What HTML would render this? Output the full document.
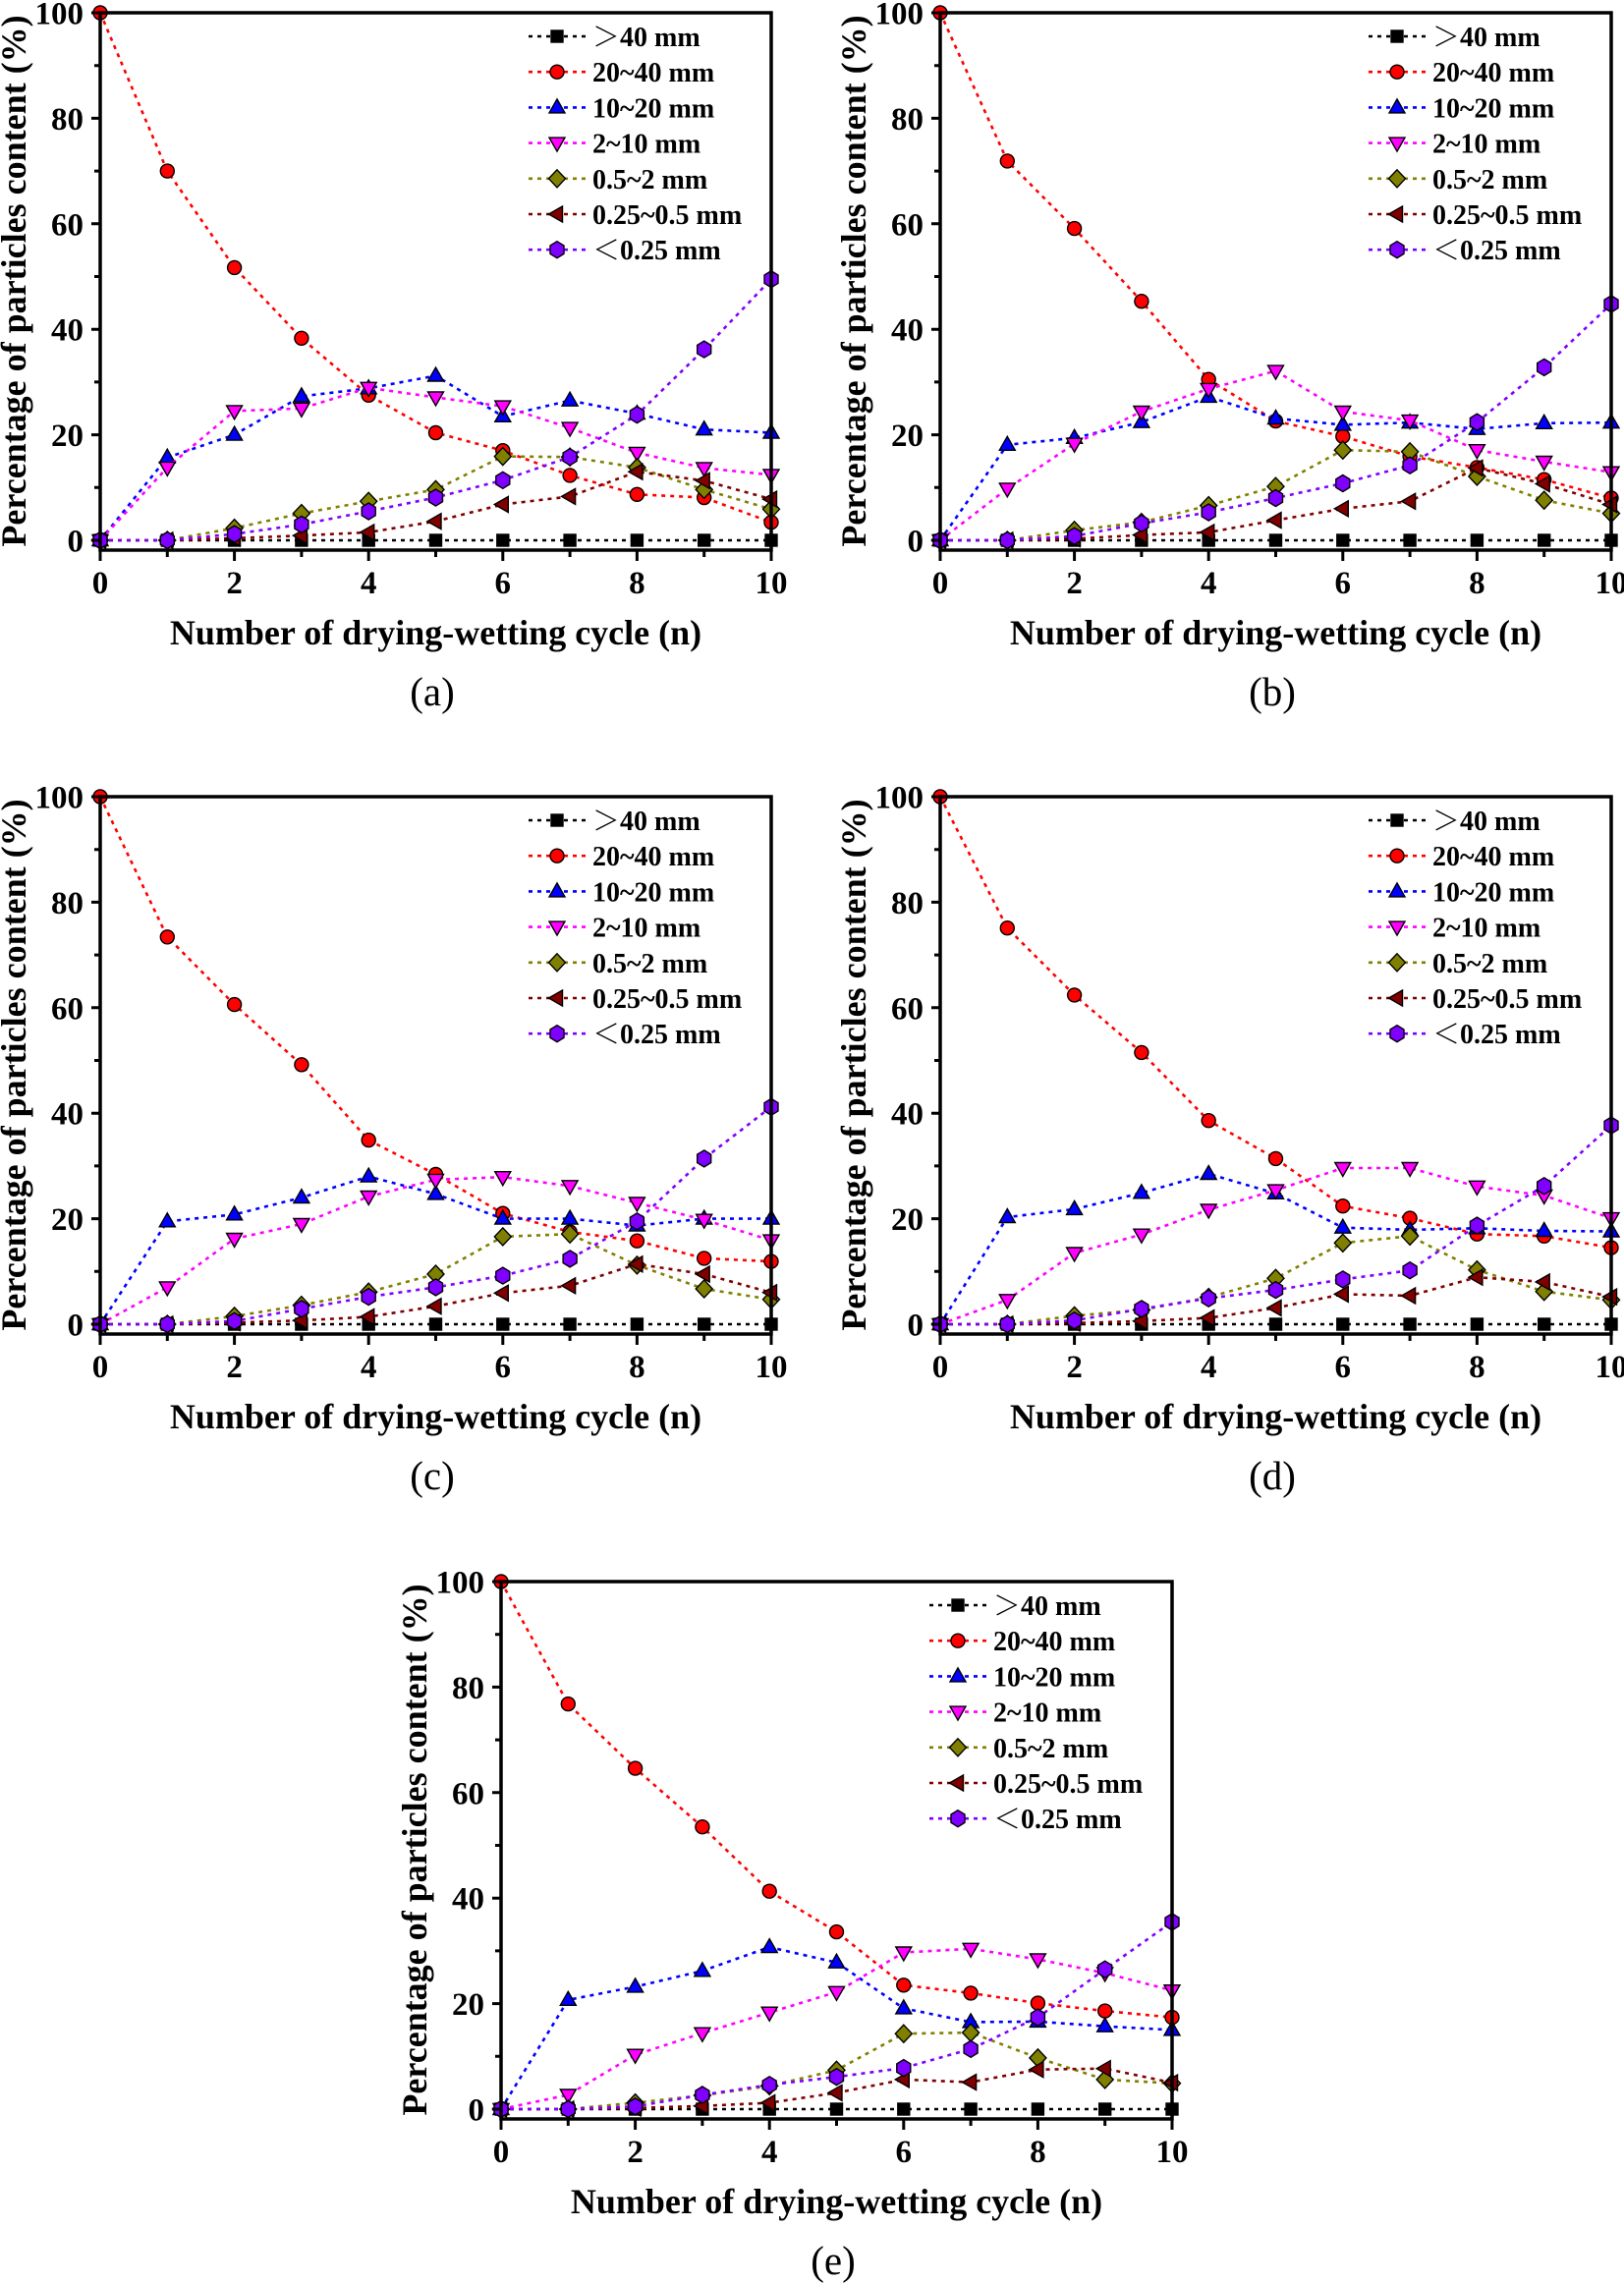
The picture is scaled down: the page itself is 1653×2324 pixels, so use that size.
<!DOCTYPE html>
<html>
<head>
<meta charset="utf-8">
<style>
html,body{margin:0;padding:0;background:#fff;}
svg{display:block;}
text{font-family:"Liberation Serif","Noto Serif CJK SC",serif;fill:#000;}
.tk{font-size:33px;font-weight:bold;}
.ttl{font-size:36px;font-weight:bold;}
.lg{font-size:28px;font-weight:bold;}
.pl{font-size:41px;}
</style>
</head>
<body>
<svg width="1653" height="2324" viewBox="0 0 1653 2324" xmlns="http://www.w3.org/2000/svg">
<rect x="0" y="0" width="1653" height="2324" fill="#fff"/>

<!-- Panel (a) -->
<g transform="translate(0,0)">
  <g id="da"></g>
  <rect x="102" y="13" width="683" height="547" fill="none" stroke="#000" stroke-width="3.5"/>
  <path d="M93 550H102M93 442.6H102M93 335.2H102M93 227.8H102M93 120.4H102M93 13H102M96 496.3H102M96 388.9H102M96 281.5H102M96 174.1H102M96 66.7H102M102 560V571M238.6 560V571M375.2 560V571M511.8 560V571M648.4 560V571M785 560V571M170.3 560V567M306.9 560V567M443.5 560V567M580.1 560V567M716.7 560V567" stroke="#000" stroke-width="3" fill="none"/>
  <g class="tk" text-anchor="end">
    <text x="85" y="561.5">0</text><text x="85" y="454">20</text><text x="85" y="346.7">40</text><text x="85" y="239.3">60</text><text x="85" y="132">80</text><text x="85" y="24.5">100</text>
  </g>
  <g class="tk" text-anchor="middle">
    <text x="102" y="604">0</text><text x="238.6" y="604">2</text><text x="375.2" y="604">4</text><text x="511.8" y="604">6</text><text x="648.4" y="604">8</text><text x="785" y="604">10</text>
  </g>
  <text class="ttl" x="443.5" y="656" text-anchor="middle">Number of drying-wetting cycle (n)</text>
  <text class="ttl" transform="translate(26,286) rotate(-90)" text-anchor="middle">Percentage of particles content (%)</text>
  <g class="lg">
    <text x="603" y="47">＞40 mm</text><text x="603" y="83.2">20~40 mm</text><text x="603" y="119.4">10~20 mm</text><text x="603" y="155.6">2~10 mm</text><text x="603" y="191.8">0.5~2 mm</text><text x="603" y="228">0.25~0.5 mm</text><text x="603" y="264.2">＜0.25 mm</text>
  </g>
  <text class="pl" x="440" y="718" text-anchor="middle">(a)</text>
</g>

<!-- Panel (b) -->
<g transform="translate(855,0)">
  <g id="db"></g>
  <rect x="102" y="13" width="683" height="547" fill="none" stroke="#000" stroke-width="3.5"/>
  <path d="M93 550H102M93 442.6H102M93 335.2H102M93 227.8H102M93 120.4H102M93 13H102M96 496.3H102M96 388.9H102M96 281.5H102M96 174.1H102M96 66.7H102M102 560V571M238.6 560V571M375.2 560V571M511.8 560V571M648.4 560V571M785 560V571M170.3 560V567M306.9 560V567M443.5 560V567M580.1 560V567M716.7 560V567" stroke="#000" stroke-width="3" fill="none"/>
  <g class="tk" text-anchor="end">
    <text x="85" y="561.5">0</text><text x="85" y="454">20</text><text x="85" y="346.7">40</text><text x="85" y="239.3">60</text><text x="85" y="132">80</text><text x="85" y="24.5">100</text>
  </g>
  <g class="tk" text-anchor="middle">
    <text x="102" y="604">0</text><text x="238.6" y="604">2</text><text x="375.2" y="604">4</text><text x="511.8" y="604">6</text><text x="648.4" y="604">8</text><text x="785" y="604">10</text>
  </g>
  <text class="ttl" x="443.5" y="656" text-anchor="middle">Number of drying-wetting cycle (n)</text>
  <text class="ttl" transform="translate(26,286) rotate(-90)" text-anchor="middle">Percentage of particles content (%)</text>
  <g class="lg">
    <text x="603" y="47">＞40 mm</text><text x="603" y="83.2">20~40 mm</text><text x="603" y="119.4">10~20 mm</text><text x="603" y="155.6">2~10 mm</text><text x="603" y="191.8">0.5~2 mm</text><text x="603" y="228">0.25~0.5 mm</text><text x="603" y="264.2">＜0.25 mm</text>
  </g>
  <text class="pl" x="440" y="718" text-anchor="middle">(b)</text>
</g>

<!-- Panel (c) -->
<g transform="translate(0,798)">
  <g id="dc"></g>
  <rect x="102" y="13" width="683" height="547" fill="none" stroke="#000" stroke-width="3.5"/>
  <path d="M93 550H102M93 442.6H102M93 335.2H102M93 227.8H102M93 120.4H102M93 13H102M96 496.3H102M96 388.9H102M96 281.5H102M96 174.1H102M96 66.7H102M102 560V571M238.6 560V571M375.2 560V571M511.8 560V571M648.4 560V571M785 560V571M170.3 560V567M306.9 560V567M443.5 560V567M580.1 560V567M716.7 560V567" stroke="#000" stroke-width="3" fill="none"/>
  <g class="tk" text-anchor="end">
    <text x="85" y="561.5">0</text><text x="85" y="454">20</text><text x="85" y="346.7">40</text><text x="85" y="239.3">60</text><text x="85" y="132">80</text><text x="85" y="24.5">100</text>
  </g>
  <g class="tk" text-anchor="middle">
    <text x="102" y="604">0</text><text x="238.6" y="604">2</text><text x="375.2" y="604">4</text><text x="511.8" y="604">6</text><text x="648.4" y="604">8</text><text x="785" y="604">10</text>
  </g>
  <text class="ttl" x="443.5" y="656" text-anchor="middle">Number of drying-wetting cycle (n)</text>
  <text class="ttl" transform="translate(26,286) rotate(-90)" text-anchor="middle">Percentage of particles content (%)</text>
  <g class="lg">
    <text x="603" y="47">＞40 mm</text><text x="603" y="83.2">20~40 mm</text><text x="603" y="119.4">10~20 mm</text><text x="603" y="155.6">2~10 mm</text><text x="603" y="191.8">0.5~2 mm</text><text x="603" y="228">0.25~0.5 mm</text><text x="603" y="264.2">＜0.25 mm</text>
  </g>
  <text class="pl" x="440" y="718" text-anchor="middle">(c)</text>
</g>

<!-- Panel (d) -->
<g transform="translate(855,798)">
  <g id="dd"></g>
  <rect x="102" y="13" width="683" height="547" fill="none" stroke="#000" stroke-width="3.5"/>
  <path d="M93 550H102M93 442.6H102M93 335.2H102M93 227.8H102M93 120.4H102M93 13H102M96 496.3H102M96 388.9H102M96 281.5H102M96 174.1H102M96 66.7H102M102 560V571M238.6 560V571M375.2 560V571M511.8 560V571M648.4 560V571M785 560V571M170.3 560V567M306.9 560V567M443.5 560V567M580.1 560V567M716.7 560V567" stroke="#000" stroke-width="3" fill="none"/>
  <g class="tk" text-anchor="end">
    <text x="85" y="561.5">0</text><text x="85" y="454">20</text><text x="85" y="346.7">40</text><text x="85" y="239.3">60</text><text x="85" y="132">80</text><text x="85" y="24.5">100</text>
  </g>
  <g class="tk" text-anchor="middle">
    <text x="102" y="604">0</text><text x="238.6" y="604">2</text><text x="375.2" y="604">4</text><text x="511.8" y="604">6</text><text x="648.4" y="604">8</text><text x="785" y="604">10</text>
  </g>
  <text class="ttl" x="443.5" y="656" text-anchor="middle">Number of drying-wetting cycle (n)</text>
  <text class="ttl" transform="translate(26,286) rotate(-90)" text-anchor="middle">Percentage of particles content (%)</text>
  <g class="lg">
    <text x="603" y="47">＞40 mm</text><text x="603" y="83.2">20~40 mm</text><text x="603" y="119.4">10~20 mm</text><text x="603" y="155.6">2~10 mm</text><text x="603" y="191.8">0.5~2 mm</text><text x="603" y="228">0.25~0.5 mm</text><text x="603" y="264.2">＜0.25 mm</text>
  </g>
  <text class="pl" x="440" y="718" text-anchor="middle">(d)</text>
</g>

<!-- Panel (e) -->
<g transform="translate(408,1597)">
  <g id="de"></g>
  <rect x="102" y="13" width="683" height="547" fill="none" stroke="#000" stroke-width="3.5"/>
  <path d="M93 550H102M93 442.6H102M93 335.2H102M93 227.8H102M93 120.4H102M93 13H102M96 496.3H102M96 388.9H102M96 281.5H102M96 174.1H102M96 66.7H102M102 560V571M238.6 560V571M375.2 560V571M511.8 560V571M648.4 560V571M785 560V571M170.3 560V567M306.9 560V567M443.5 560V567M580.1 560V567M716.7 560V567" stroke="#000" stroke-width="3" fill="none"/>
  <g class="tk" text-anchor="end">
    <text x="85" y="561.5">0</text><text x="85" y="454">20</text><text x="85" y="346.7">40</text><text x="85" y="239.3">60</text><text x="85" y="132">80</text><text x="85" y="24.5">100</text>
  </g>
  <g class="tk" text-anchor="middle">
    <text x="102" y="604">0</text><text x="238.6" y="604">2</text><text x="375.2" y="604">4</text><text x="511.8" y="604">6</text><text x="648.4" y="604">8</text><text x="785" y="604">10</text>
  </g>
  <text class="ttl" x="443.5" y="656" text-anchor="middle">Number of drying-wetting cycle (n)</text>
  <text class="ttl" transform="translate(26,286) rotate(-90)" text-anchor="middle">Percentage of particles content (%)</text>
  <g class="lg">
    <text x="603" y="47">＞40 mm</text><text x="603" y="83.2">20~40 mm</text><text x="603" y="119.4">10~20 mm</text><text x="603" y="155.6">2~10 mm</text><text x="603" y="191.8">0.5~2 mm</text><text x="603" y="228">0.25~0.5 mm</text><text x="603" y="264.2">＜0.25 mm</text>
  </g>
  <text class="pl" x="440" y="718" text-anchor="middle">(e)</text>
</g>
</svg>

<script>
(function(){
  var SER=[['#000000','sq'],['#ff0000','ci'],['#0000ff','tu'],['#ff00ff','td'],['#808000','di'],['#800000','tl'],['#8000ff','hx']];
  var Z=[0,0,0,0,0,0,0,0,0,0,0];
  var D={
    da:[Z,
      [100,70,51.7,38.3,27.5,20.4,17,12.3,8.7,8.1,3.4],
      [0,15.7,20,27.3,28.8,31.2,23.5,26.5,24,21,20.4],
      [0,13.8,24.5,25,28.9,27.1,25.4,21.3,16.6,13.7,12.4],
      [0,0,2.3,5.1,7.4,9.6,15.9,15.8,13.8,9.6,5.9],
      [0,0,0.4,0.9,1.5,3.6,6.8,8.3,13,11.3,7.8],
      [0,0,1.2,3,5.5,8.1,11.4,15.8,23.8,36.2,49.5]],
    db:[Z,
      [100,71.9,59.1,45.3,30.5,22.6,19.7,15.9,13.8,11.5,8],
      [0,18.1,19.4,22.4,27.2,23.1,21.9,22.3,21.1,22.2,22.3],
      [0,9.8,18.3,24.4,28.7,32.1,24.4,22.7,17.1,14.9,12.9],
      [0,0,1.9,3.4,6.6,10.2,17.1,16.8,12.1,7.6,5.1],
      [0,0,0.3,1,1.5,3.8,6,7.4,13.7,10.7,6.8],
      [0,0,0.8,3.2,5.3,8,10.8,14.2,22.4,32.8,44.8]],
    dc:[Z,
      [100,73.4,60.6,49.2,34.9,28.4,21,17.5,15.8,12.5,11.9],
      [0,19.5,20.8,24,28,24.7,20,20,18.7,20,20],
      [0,7,16.2,19,24.2,27.4,27.9,26.2,23,19.8,15.9],
      [0,0,1.5,3.6,6.1,9.5,16.6,17.1,11.2,6.7,4.7],
      [0,0,0.3,0.7,1.4,3.4,5.9,7.3,11.4,9.5,6],
      [0,0,0.6,2.9,5.2,7,9.2,12.4,19.5,31.4,41.2]],
    dd:[Z,
      [100,75.1,62.4,51.5,38.6,31.4,22.4,20.1,17.1,16.7,14.5],
      [0,20.3,21.8,24.9,28.5,24.8,18.3,17.9,18.2,17.7,17.6],
      [0,4.6,13.5,17,21.7,25.4,29.6,29.6,26.1,24.4,20.1],
      [0,0,1.6,2.7,5.1,8.7,15.4,16.7,10.3,6.2,4.6],
      [0,0,0.2,0.6,1.2,3.1,5.7,5.4,8.9,8,5.2],
      [0,0,0.7,2.9,4.9,6.5,8.5,10.2,18.7,26.2,37.7]],
    de:[Z,
      [100,76.8,64.6,53.5,41.3,33.6,23.5,22,20.1,18.6,17.4],
      [0,20.7,23.2,26.2,30.7,27.8,19.1,16.5,16.6,15.7,15],
      [0,2.7,10.3,14.4,18.3,22.2,29.7,30.4,28.4,25.8,22.5],
      [0,0,1.2,2.6,4.4,7.4,14.3,14.5,9.7,5.6,4.9],
      [0,0,0.2,0.6,1.2,3.1,5.6,5.1,7.5,7.7,5],
      [0,0,0.5,2.7,4.6,6.1,7.8,11.4,17.4,26.5,35.5]]
  };
  function X(i){return 102+68.3*i;}
  function Y(v){return 550-5.37*v;}
  function mk(m,x,y,c){
    var st=' fill="'+c+'" stroke="#000" stroke-width="1.4"';
    function P(a){
      var s=[];
      for(var i=0;i<a.length;i++){s.push(((i%2)?(y+a[i]):(x+a[i])).toFixed(1));}
      return '<polygon points="'+s.join(' ')+'"'+st+'/>';
    }
    switch(m){
      case 'sq': return '<rect x="'+(x-6).toFixed(1)+'" y="'+(y-6).toFixed(1)+'" width="12" height="12"'+st+'/>';
      case 'ci': return '<circle cx="'+x.toFixed(1)+'" cy="'+y.toFixed(1)+'" r="7"'+st+'/>';
      case 'tu': return P([0,-8.5,8,5.5,-8,5.5]);
      case 'td': return P([-8,-5.5,8,-5.5,0,8.5]);
      case 'di': return P([0,-9,8.5,0,0,9,-8.5,0]);
      case 'tl': return P([-8.5,0,5.5,-8,5.5,8]);
      case 'hx': return P([0,-8.5,7,-4.2,7,4.2,0,8.5,-7,4.2,-7,-4.2]);
    }
    return '';
  }
  var LINE=' fill="none" stroke-width="2.6" stroke-dasharray="4 5"';
  for(var id in D){
    var g=document.getElementById(id);
    var h='';
    for(var s=0;s<7;s++){
      var c=SER[s][0], m=SER[s][1], d=D[id][s];
      var pts=[];
      for(var i=0;i<11;i++){pts.push(X(i).toFixed(1)+','+Y(d[i]).toFixed(1));}
      h+='<polyline points="'+pts.join(' ')+'" stroke="'+c+'"'+LINE+'/>';
      for(var i=0;i<11;i++){h+=mk(m,X(i),Y(d[i]),c);}
    }
    for(var k=0;k<7;k++){
      var cy=37+36.2*k;
      h+='<path d="M538 '+cy.toFixed(1)+'H597" stroke="'+SER[k][0]+'"'+LINE+'/>';
      h+=mk(SER[k][1],567,cy,SER[k][0]);
    }
    g.innerHTML=h;
  }
})();
</script>
</body>
</html>
